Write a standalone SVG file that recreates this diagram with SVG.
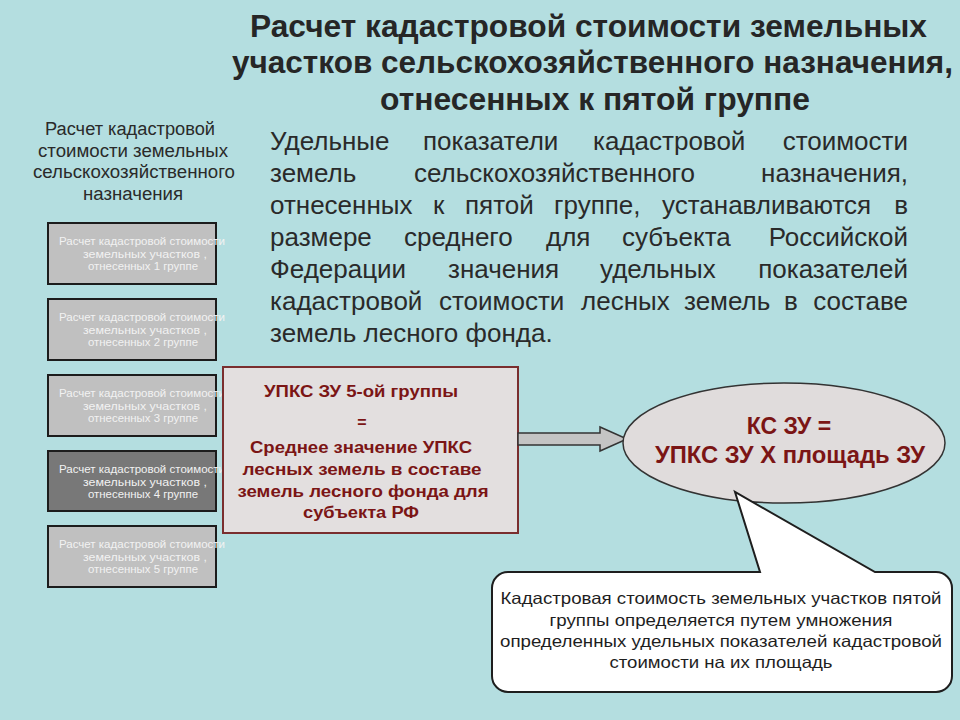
<svg xmlns="http://www.w3.org/2000/svg" width="960" height="720" viewBox="0 0 960 720">
<style>
text{font-family:'Liberation Sans',Arial,sans-serif}
.title{font-size:31px;font-weight:bold;fill:#262626}
.para{font-size:26px;fill:#2a2a2a}
.hdr{font-size:18px;fill:#2a2a2a;text-anchor:middle}
.gbox{fill:#c0c0c0;stroke:#1c1c1c;stroke-width:2}
.gbox.dark{fill:#787878}
.btxt{font-size:11px;fill:#f2f2f2;text-anchor:middle}
.red{font-size:16px;font-weight:bold;fill:#7b1515;text-anchor:middle}
.big{font-size:23px;font-weight:bold;fill:#7b1515;text-anchor:middle}
.call{font-size:16.5px;fill:#1e1e1e;text-anchor:middle}
</style>
<rect width="960" height="720" fill="#b4dee0"/>

<g id="title">
<text class="title" x="250" y="37" textLength="677" lengthAdjust="spacingAndGlyphs">Расчет кадастровой стоимости земельных</text>
<text class="title" x="232" y="73" textLength="721" lengthAdjust="spacingAndGlyphs">участков сельскохозяйственного назначения,</text>
<text class="title" x="380" y="110" textLength="430" lengthAdjust="spacingAndGlyphs">отнесенных к пятой группе</text>
</g>

<g id="paragraph" class="para">
<text class="para" y="150"><tspan x="270">Удельные</tspan><tspan x="423">показатели</tspan><tspan x="593">кадастровой</tspan></text>
<text class="para" x="908" y="150" text-anchor="end">стоимости</text>
<text class="para" y="182"><tspan x="270">земель</tspan><tspan x="414">сельскохозяйственного</tspan></text>
<text class="para" x="908" y="182" text-anchor="end">назначения,</text>
<text class="para" y="214"><tspan x="270">отнесенных</tspan><tspan x="433">к</tspan><tspan x="465">пятой</tspan><tspan x="554">группе,</tspan><tspan x="662">устанавливаются</tspan></text>
<text class="para" x="908" y="214" text-anchor="end">в</text>
<text class="para" y="246"><tspan x="270">размере</tspan><tspan x="404">среднего</tspan><tspan x="546">для</tspan><tspan x="622">субъекта</tspan></text>
<text class="para" x="908" y="246" text-anchor="end">Российской</text>
<text class="para" y="278"><tspan x="270">Федерации</tspan><tspan x="448">значения</tspan><tspan x="600">удельных</tspan></text>
<text class="para" x="908" y="278" text-anchor="end">показателей</text>
<text class="para" y="310"><tspan x="270">кадастровой</tspan><tspan x="439">стоимости</tspan><tspan x="581">лесных</tspan><tspan x="684">земель</tspan><tspan x="784">в</tspan></text>
<text class="para" x="908" y="310" text-anchor="end">составе</text>
<text class="para" x="270" y="342">земель лесного фонда.</text>
</g>

<g id="left-header">
<text class="hdr" x="130" y="135" textLength="170" lengthAdjust="spacingAndGlyphs">Расчет кадастровой</text>
<text class="hdr" x="133" y="157" textLength="190" lengthAdjust="spacingAndGlyphs">стоимости земельных</text>
<text class="hdr" x="134" y="178" textLength="202" lengthAdjust="spacingAndGlyphs">сельскохозяйственного</text>
<text class="hdr" x="133" y="200" textLength="100" lengthAdjust="spacingAndGlyphs">назначения</text>
</g>

<g id="group1">
<rect class="gbox" x="48" y="223" width="168" height="61"/>
<text class="btxt" x="142" y="245" textLength="166" lengthAdjust="spacingAndGlyphs">Расчет кадастровой стоимости</text>
<text class="btxt" x="145" y="258" textLength="124" lengthAdjust="spacingAndGlyphs">земельных участков ,</text>
<text class="btxt" x="143" y="270" textLength="110" lengthAdjust="spacingAndGlyphs">отнесенных 1 группе</text>
</g>
<g id="group2">
<rect class="gbox" x="48" y="299" width="168" height="61"/>
<text class="btxt" x="142" y="321" textLength="166" lengthAdjust="spacingAndGlyphs">Расчет кадастровой стоимости</text>
<text class="btxt" x="145" y="334" textLength="124" lengthAdjust="spacingAndGlyphs">земельных участков ,</text>
<text class="btxt" x="143" y="346" textLength="110" lengthAdjust="spacingAndGlyphs">отнесенных 2 группе</text>
</g>
<g id="group3">
<rect class="gbox" x="48" y="375" width="168" height="61"/>
<text class="btxt" x="142" y="397" textLength="166" lengthAdjust="spacingAndGlyphs">Расчет кадастровой стоимости</text>
<text class="btxt" x="145" y="410" textLength="124" lengthAdjust="spacingAndGlyphs">земельных участков ,</text>
<text class="btxt" x="143" y="422" textLength="110" lengthAdjust="spacingAndGlyphs">отнесенных 3 группе</text>
</g>
<g id="group4">
<rect class="gbox dark" x="48" y="451" width="168" height="60"/>
<text class="btxt" x="142" y="473" textLength="166" lengthAdjust="spacingAndGlyphs">Расчет кадастровой стоимости</text>
<text class="btxt" x="145" y="486" textLength="124" lengthAdjust="spacingAndGlyphs">земельных участков ,</text>
<text class="btxt" x="143" y="498" textLength="110" lengthAdjust="spacingAndGlyphs">отнесенных 4 группе</text>
</g>
<g id="group5">
<rect class="gbox" x="48" y="526" width="168" height="61"/>
<text class="btxt" x="142" y="548" textLength="166" lengthAdjust="spacingAndGlyphs">Расчет кадастровой стоимости</text>
<text class="btxt" x="145" y="561" textLength="124" lengthAdjust="spacingAndGlyphs">земельных участков ,</text>
<text class="btxt" x="143" y="573" textLength="110" lengthAdjust="spacingAndGlyphs">отнесенных 5 группе</text>
</g>

<g id="upks-box">
<rect x="223" y="367" width="295" height="166" fill="#e3dfdf" stroke="#7a2e2e" stroke-width="2"/>
<text class="red" x="361" y="397" textLength="194" lengthAdjust="spacingAndGlyphs">УПКС ЗУ 5-ой группы</text>
<text class="red" x="362" y="428">=</text>
<text class="red" x="361" y="453" textLength="222" lengthAdjust="spacingAndGlyphs">Среднее значение УПКС</text>
<text class="red" x="362" y="475" textLength="239" lengthAdjust="spacingAndGlyphs">лесных земель в составе</text>
<text class="red" x="363" y="497" textLength="251" lengthAdjust="spacingAndGlyphs">земель лесного фонда для</text>
<text class="red" x="361" y="518" textLength="116" lengthAdjust="spacingAndGlyphs">субъекта РФ</text>
</g>

<g id="connectors">
<polygon points="518,433 600,433 600,427 627,439 600,451 600,445 518,445" fill="#c4c4c4" stroke="#333" stroke-width="1.5" stroke-linejoin="miter"/>
</g>

<g id="formula">
<ellipse cx="784" cy="443" rx="161" ry="60" fill="#e0dcdc" stroke="#333" stroke-width="1.5"/>
<text class="big" x="789" y="434">КС ЗУ =</text>
<text class="big" x="790" y="463" textLength="270" lengthAdjust="spacingAndGlyphs">УПКС ЗУ Х площадь ЗУ</text>
</g>

<g id="callout">
<path d="M508,572 L760,572 L735,492 L875,572 L936,572 A16,16 0 0 1 952,588 L952,676 A16,16 0 0 1 936,692 L508,692 A16,16 0 0 1 492,676 L492,588 A16,16 0 0 1 508,572 Z" fill="#ffffff" stroke="#1e1e1e" stroke-width="2" stroke-linejoin="miter"/>
<text class="call" x="721" y="604" textLength="441" lengthAdjust="spacingAndGlyphs">Кадастровая стоимость земельных участков пятой</text>
<text class="call" x="721" y="626" textLength="343" lengthAdjust="spacingAndGlyphs">группы определяется путем умножения</text>
<text class="call" x="721" y="647" textLength="442" lengthAdjust="spacingAndGlyphs">определенных удельных показателей кадастровой</text>
<text class="call" x="721" y="668" textLength="223" lengthAdjust="spacingAndGlyphs">стоимости на их площадь</text>
</g>
</svg>
